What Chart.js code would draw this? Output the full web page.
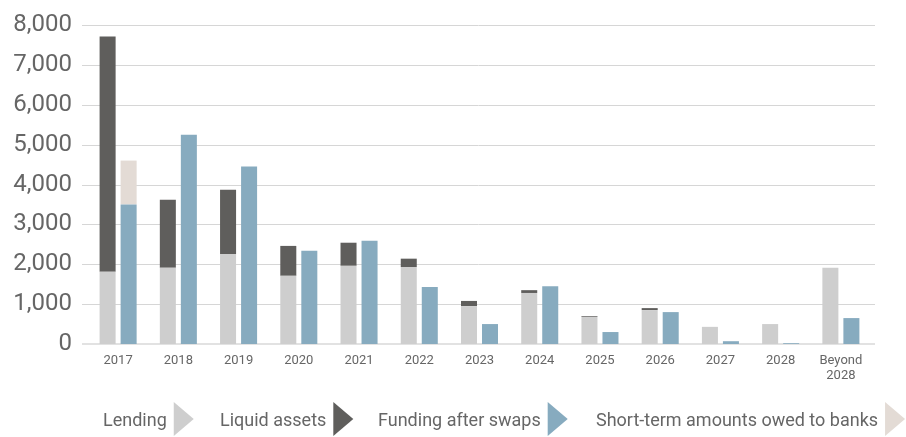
<!DOCTYPE html>
<html>
<head>
<meta charset="utf-8">
<script src="https://cdn.jsdelivr.net/npm/chart.js@4/dist/chart.umd.min.js"></script>
<style>
  html, body { margin: 0; padding: 0; background: #ffffff; }
  #wrap { width: 906px; height: 437px; position: relative; }
</style>
</head>
<body>
<div id="wrap"><canvas id="c"></canvas></div>
<script>
// ---- data ----
const categories = ['2017','2018','2019','2020','2021','2022','2023','2024','2025','2026','2027','2028',['Beyond','2028']];
const lending        = [1810, 1910, 2260, 1710, 1960, 1930, 950, 1280, 680, 850, 430, 500, 1910];
const liquidAssets   = [5900, 1710, 1610,  750,  580,  210, 130,   70,  20,  50,   0,   0,    0];
const fundingSwaps   = [3500, 5250, 4450, 2340, 2590, 1430, 500, 1450, 300, 800,  70,  20,  650];
const shortTermBanks = [1100,    0,    0,    0,    0,    0,   0,    0,   0,   0,   0,   0,    0];
const seriesNames = ['Lending', 'Liquid assets', 'Funding after swaps', 'Short-term amounts owed to banks'];
const yTicks = [0, 1000, 2000, 3000, 4000, 5000, 6000, 7000, 8000];

const colors = ['#cecece', '#5f5e5c', '#87abbf', '#e3dbd5'];
const FONT = 'Roboto, "DejaVu Sans", sans-serif';
const TXT = '#666666';

// gridlines extended slightly beyond the category area
const gridPlugin = {
  id: 'extGrid',
  beforeDatasetsDraw(chart) {
    const ctx = chart.ctx, y = chart.scales.y;
    ctx.save();
    yTicks.forEach(v => {
      const py = Math.round(y.getPixelForValue(v));
      ctx.beginPath();
      if (v === 0) { ctx.strokeStyle = '#e2e2e2'; ctx.lineWidth = 2; ctx.moveTo(82, py); ctx.lineTo(875, py); }
      else { ctx.strokeStyle = '#d6d6d6'; ctx.lineWidth = 1; ctx.moveTo(82, py + 0.5); ctx.lineTo(875, py + 0.5); }
      ctx.stroke();
    });
    ctx.restore();
  }
};

// legend: text followed by a right-pointing triangle marker
const legendPlugin = {
  id: 'triLegend',
  afterDraw(chart) {
    const ctx = chart.ctx;
    const starts = [103, 220, 378, 596];
    ctx.save();
    ctx.font = '18px ' + FONT;
    ctx.textBaseline = 'middle';
    ctx.textAlign = 'left';
    chart.data.datasets.forEach((ds, i) => {
      const x = starts[i];
      ctx.fillStyle = TXT;
      ctx.fillText(ds.label, x, 421);
      const w = ctx.measureText(ds.label).width;
      const mx = x + w + 7;
      ctx.fillStyle = ds.backgroundColor;
      ctx.beginPath();
      ctx.moveTo(mx, 402);
      ctx.lineTo(mx + 20, 419);
      ctx.lineTo(mx, 436);
      ctx.closePath();
      ctx.fill();
    });
    ctx.restore();
  }
};

new Chart(document.getElementById('c'), {
  type: 'bar',
  data: {
    labels: categories,
    datasets: [
      { label: seriesNames[0], data: lending,        backgroundColor: colors[0], stack: 'a' },
      { label: seriesNames[1], data: liquidAssets,   backgroundColor: colors[1], stack: 'a' },
      { label: seriesNames[2], data: fundingSwaps,   backgroundColor: colors[2], stack: 'b' },
      { label: seriesNames[3], data: shortTermBanks, backgroundColor: colors[3], stack: 'b' }
    ]
  },
  options: {
    responsive: true,
    maintainAspectRatio: false,
    animation: false,
    layout: { padding: { top: 25, right: 35, left: 0, bottom: 0 } },
    datasets: { bar: { categoryPercentage: 0.698, barPercentage: 0.762, borderWidth: 0 } },
    plugins: {
      legend: { display: false },
      tooltip: { enabled: false }
    },
    scales: {
      x: {
        stacked: true,
        grid: { display: false, drawTicks: false },
        border: { display: false },
        ticks: { color: TXT, font: { family: FONT, size: 13, lineHeight: 1.15 }, padding: 9, maxRotation: 0, autoSkip: false },
        afterFit(s) { s.height = 93; s.paddingLeft = 0; s.paddingRight = 0; }
      },
      y: {
        stacked: true,
        min: 0, max: 8000,
        afterBuildTicks(s) { s.ticks = yTicks.map(v => ({ value: v })); },
        grid: { display: false, drawTicks: false },
        border: { display: false },
        ticks: {
          color: TXT,
          font: { family: FONT, size: 24 },
          padding: 16,
          callback: v => Number(v).toLocaleString('en-US')
        },
        afterFit(s) { s.width = 88; s.paddingTop = 0; s.paddingBottom = 0; }
      }
    }
  },
  plugins: [gridPlugin, legendPlugin]
});
</script>
</body>
</html>
